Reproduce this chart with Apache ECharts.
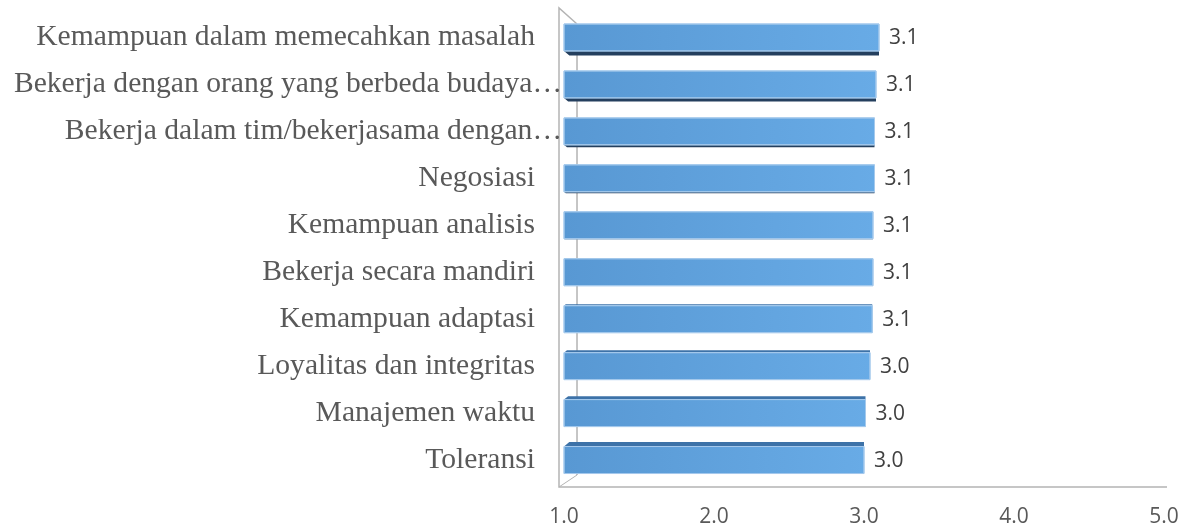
<!DOCTYPE html>
<html>
<head>
<meta charset="utf-8">
<script src="https://cdn.jsdelivr.net/npm/echarts@6/dist/echarts.min.js"></script>
<style>
  html, body { margin: 0; padding: 0; background: #fff; }
  #chart { width: 1190px; height: 530px; }
</style>
</head>
<body>
<div id="chart"></div>
<script>
var categories = [
  'Kemampuan dalam memecahkan masalah',
  'Bekerja dengan orang yang berbeda budaya\u2026',
  'Bekerja dalam tim/bekerjasama dengan\u2026',
  'Negosiasi',
  'Kemampuan analisis',
  'Bekerja secara mandiri',
  'Kemampuan adaptasi',
  'Loyalitas dan integritas',
  'Manajemen waktu',
  'Toleransi'
];
var values = [3.10, 3.08, 3.07, 3.07, 3.06, 3.06, 3.055, 3.04, 3.01, 3.00];
var axisMin = 1, axisMax = 5, axisStep = 1;

var chart = echarts.init(document.getElementById('chart'));

var seriesData = values.map(function(v, i) { return [v, i]; });

// front face + a thin top/bottom face to fake the excel 3d look
function renderBar(params, api) {
  var i = api.value(1);
  var v = api.value(0);
  var p0 = api.coord([axisMin, i]);
  var p1 = api.coord([v, i]);
  var h = api.size([0, 1])[1] * 0.575;
  var cy = p0[1];
  var eye = 250;
  var d = (cy - eye) * 0.021;
  var x0 = p0[0], x1 = p1[0];
  var yt = cy - h / 2, yb = cy + h / 2;
  var children = [];
  if (d < -0.3) {
    var dd = -d;
    children.push({
      type: 'polygon',
      shape: { points: [[x0, yb], [x1, yb], [x1, yb + dd], [x0 + dd * 1.2, yb + dd]] },
      style: { fill: '#243f5e' }
    });
  } else if (d > 0.3) {
    children.push({
      type: 'polygon',
      shape: { points: [[x0 + d * 1.2, yt - d], [x1, yt - d], [x1, yt], [x0, yt]] },
      style: { fill: '#3d72a8' }
    });
  }
  children.push({
    type: 'rect',
    shape: { x: x0, y: yt, width: x1 - x0, height: h },
    style: {
      fill: new echarts.graphic.LinearGradient(0, 0, 1, 0, [
        { offset: 0, color: '#5898d3' },
        { offset: 1, color: '#68abe6' }
      ]),
      stroke: '#a4c9ec',
      lineWidth: 1
    }
  });
  children.push({
    type: 'text',
    style: {
      x: x1 + 10,
      y: cy + 1,
      text: v.toFixed(1),
      verticalAlign: 'middle',
      align: 'left',
      font: '21px "Open Sans"',
      fill: '#404040'
    }
  });
  return { type: 'group', children: children };
}

var labelFont = { fontFamily: 'Liberation Serif', fontSize: 29.6, color: '#595959' };

var option = {
  animation: false,
  grid: { left: 564, right: 26, top: 14, bottom: 46.5, containLabel: false, outerBoundsMode: 'none' },
  xAxis: {
    type: 'value',
    min: axisMin,
    max: axisMax,
    interval: axisStep,
    axisLine: { show: false },
    axisTick: { show: false },
    splitLine: { show: false },
    axisLabel: {
      margin: 23,
      color: '#595959',
      fontFamily: 'Open Sans',
      fontSize: 21,
      formatter: function(val) { return val.toFixed(1); }
    }
  },
  yAxis: {
    type: 'category',
    inverse: true,
    data: categories,
    axisLine: { show: false },
    axisTick: { show: false },
    axisLabel: {
      margin: 2,
      color: '#595959',
      fontFamily: 'Liberation Serif',
      fontSize: 29.6,
      // excel lets the ellipsis hang past the normal label edge,
      // so the plain labels get a blank pad where the ellipsis would be
      formatter: function(val) {
        if (val.charAt(val.length - 1) === '\u2026') {
          return '{t|' + val + '}';
        }
        return '{t|' + val + '}{s| }';
      },
      rich: {
        t: labelFont,
        s: Object.assign({ width: 27 }, labelFont)
      }
    }
  },
  series: [{
    type: 'custom',
    renderItem: renderBar,
    encode: { x: 0, y: 1 },
    data: seriesData
  }]
};

chart.setOption(option);

// the 3d wall/floor frame, placed from the value axis
var xl = chart.convertToPixel({ xAxisIndex: 0 }, axisMin);
var xr = chart.convertToPixel({ xAxisIndex: 0 }, axisMax);
var fx = xl - 5, bx = xl + 13;
var topF = 8, topB = 24, botF = 487, botB = 475;
chart.setOption({
  graphic: [
    { type: 'polyline', z: 0, shape: { points: [[bx, topB], [fx, topF], [fx, botF], [xr + 3, botF]] },
      style: { stroke: '#b4b4b4', lineWidth: 1.5, fill: null } },
    { type: 'line', z: 0, shape: { x1: fx, y1: botF, x2: bx, y2: botB },
      style: { stroke: '#b4b4b4', lineWidth: 1 } },
    { type: 'line', z: 0, shape: { x1: bx, y1: topB, x2: bx, y2: botB },
      style: { stroke: '#8c8c8c', lineWidth: 1 } }
  ]
});
</script>
</body>
</html>
